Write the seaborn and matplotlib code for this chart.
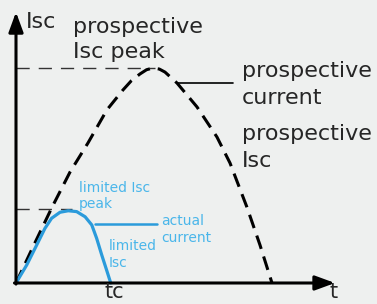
import numpy as np
import pandas as pd
import matplotlib.pyplot as plt
import seaborn as sns

# prospective short-circuit current (normalised, peak = 1)
t_prosp = [0, 0.70, 1.41, 2.11, 2.81, 3.55, 4.18, 4.50, 4.84, 5.10, 5.35, 5.60, 5.82, 6.29, 7.07, 7.85, 8.36, 9.02, 9.53, 10.0]
i_prosp = [0, 0.177, 0.353, 0.516, 0.651, 0.805, 0.898, 0.940, 0.972, 0.992, 1.0, 0.995, 0.981, 0.930, 0.819, 0.679, 0.558, 0.353, 0.177, 0]

# actual (limited) current
t_limit = [0, 0.42, 0.81, 1.13, 1.39, 1.72, 2.04, 2.37, 2.70, 2.96, 3.15, 3.35, 3.54, 3.70]
i_limit = [0, 0.084, 0.177, 0.254, 0.301, 0.329, 0.336, 0.332, 0.308, 0.270, 0.208, 0.130, 0.060, 0]

limited_peak = 0.345
t_cut = 3.83

BG = '#eef0ef'
BLUE = '#2b9bdb'
BLUE_TXT = '#4ab6ea'
INK = '#262626'

sns.set_style('white', {'axes.facecolor': BG, 'figure.facecolor': BG})
plt.rcParams['font.family'] = ['DejaVu Sans']

fig = plt.figure(figsize=(3.77, 3.04), dpi=100)
ax = fig.add_axes([0, 0, 1, 1])
ax.set_xlim(-0.625, 14.102)
ax.set_ylim(-0.0977, 1.3163)
ax.axis('off')

# guide lines to the two peaks
ax.plot([0, 5.43], [1.0, 1.0], color='#333333', lw=1.0, linestyle=(0, (9.5, 6.5)))
ax.plot([0, 2.2], [limited_peak, limited_peak], color='#333333', lw=1.0, linestyle=(0, (9.5, 6.5)))

# curves
sns.lineplot(x=t_prosp, y=i_prosp, ax=ax, color='black', lw=2.2,
             linestyle=(0, (4.6, 2.6)), sort=False, estimator=None)
sns.lineplot(x=t_limit, y=i_limit, ax=ax, color=BLUE, lw=2.3,
             sort=False, estimator=None, solid_capstyle='round')

# leader lines
ax.plot([6.29, 8.48], [0.930, 0.930], color='black', lw=1.2)
ax.plot([3.09, 5.51], [0.274, 0.274], color=BLUE, lw=1.8)

# axes with arrows
arrow = dict(arrowstyle='-|>,head_length=0.6,head_width=0.22', lw=2.2, color='black',
             shrinkA=0, shrinkB=0, mutation_scale=20)
ax.annotate('', xy=(12.46, 0), xytext=(-0.06, 0), arrowprops=arrow)
ax.annotate('', xy=(0, 1.26), xytext=(0, -0.005), arrowprops=arrow)


def label(x, y, lines, size, color, gap):
    for k, s in enumerate(lines):
        fig.text(x / 377, 1 - (y + k * gap) / 304, s, ha='left', va='baseline',
                 fontsize=size, color=color)


label(26, 28, ['Isc'], 16, INK, 0)
label(73, 33, ['prospective', 'Isc peak'], 16, INK, 25)
label(242, 77, ['prospective', 'current'], 16, INK, 27)
label(242, 140, ['prospective', 'Isc'], 16, INK, 27)
label(330, 298, ['t'], 15, INK, 0)
fig.text((t_cut * 25.6 + 16) / 377, 1 - 298 / 304, 'tc', ha='center', va='baseline',
         fontsize=15, color=INK)

label(79, 192, ['limited Isc', 'peak'], 10, BLUE_TXT, 16)
label(161, 225, ['actual', 'current'], 10, BLUE_TXT, 17)
label(109, 250, ['limited', 'Isc'], 10, BLUE_TXT, 17)

fig.savefig('out.png', dpi=100, facecolor=BG)
